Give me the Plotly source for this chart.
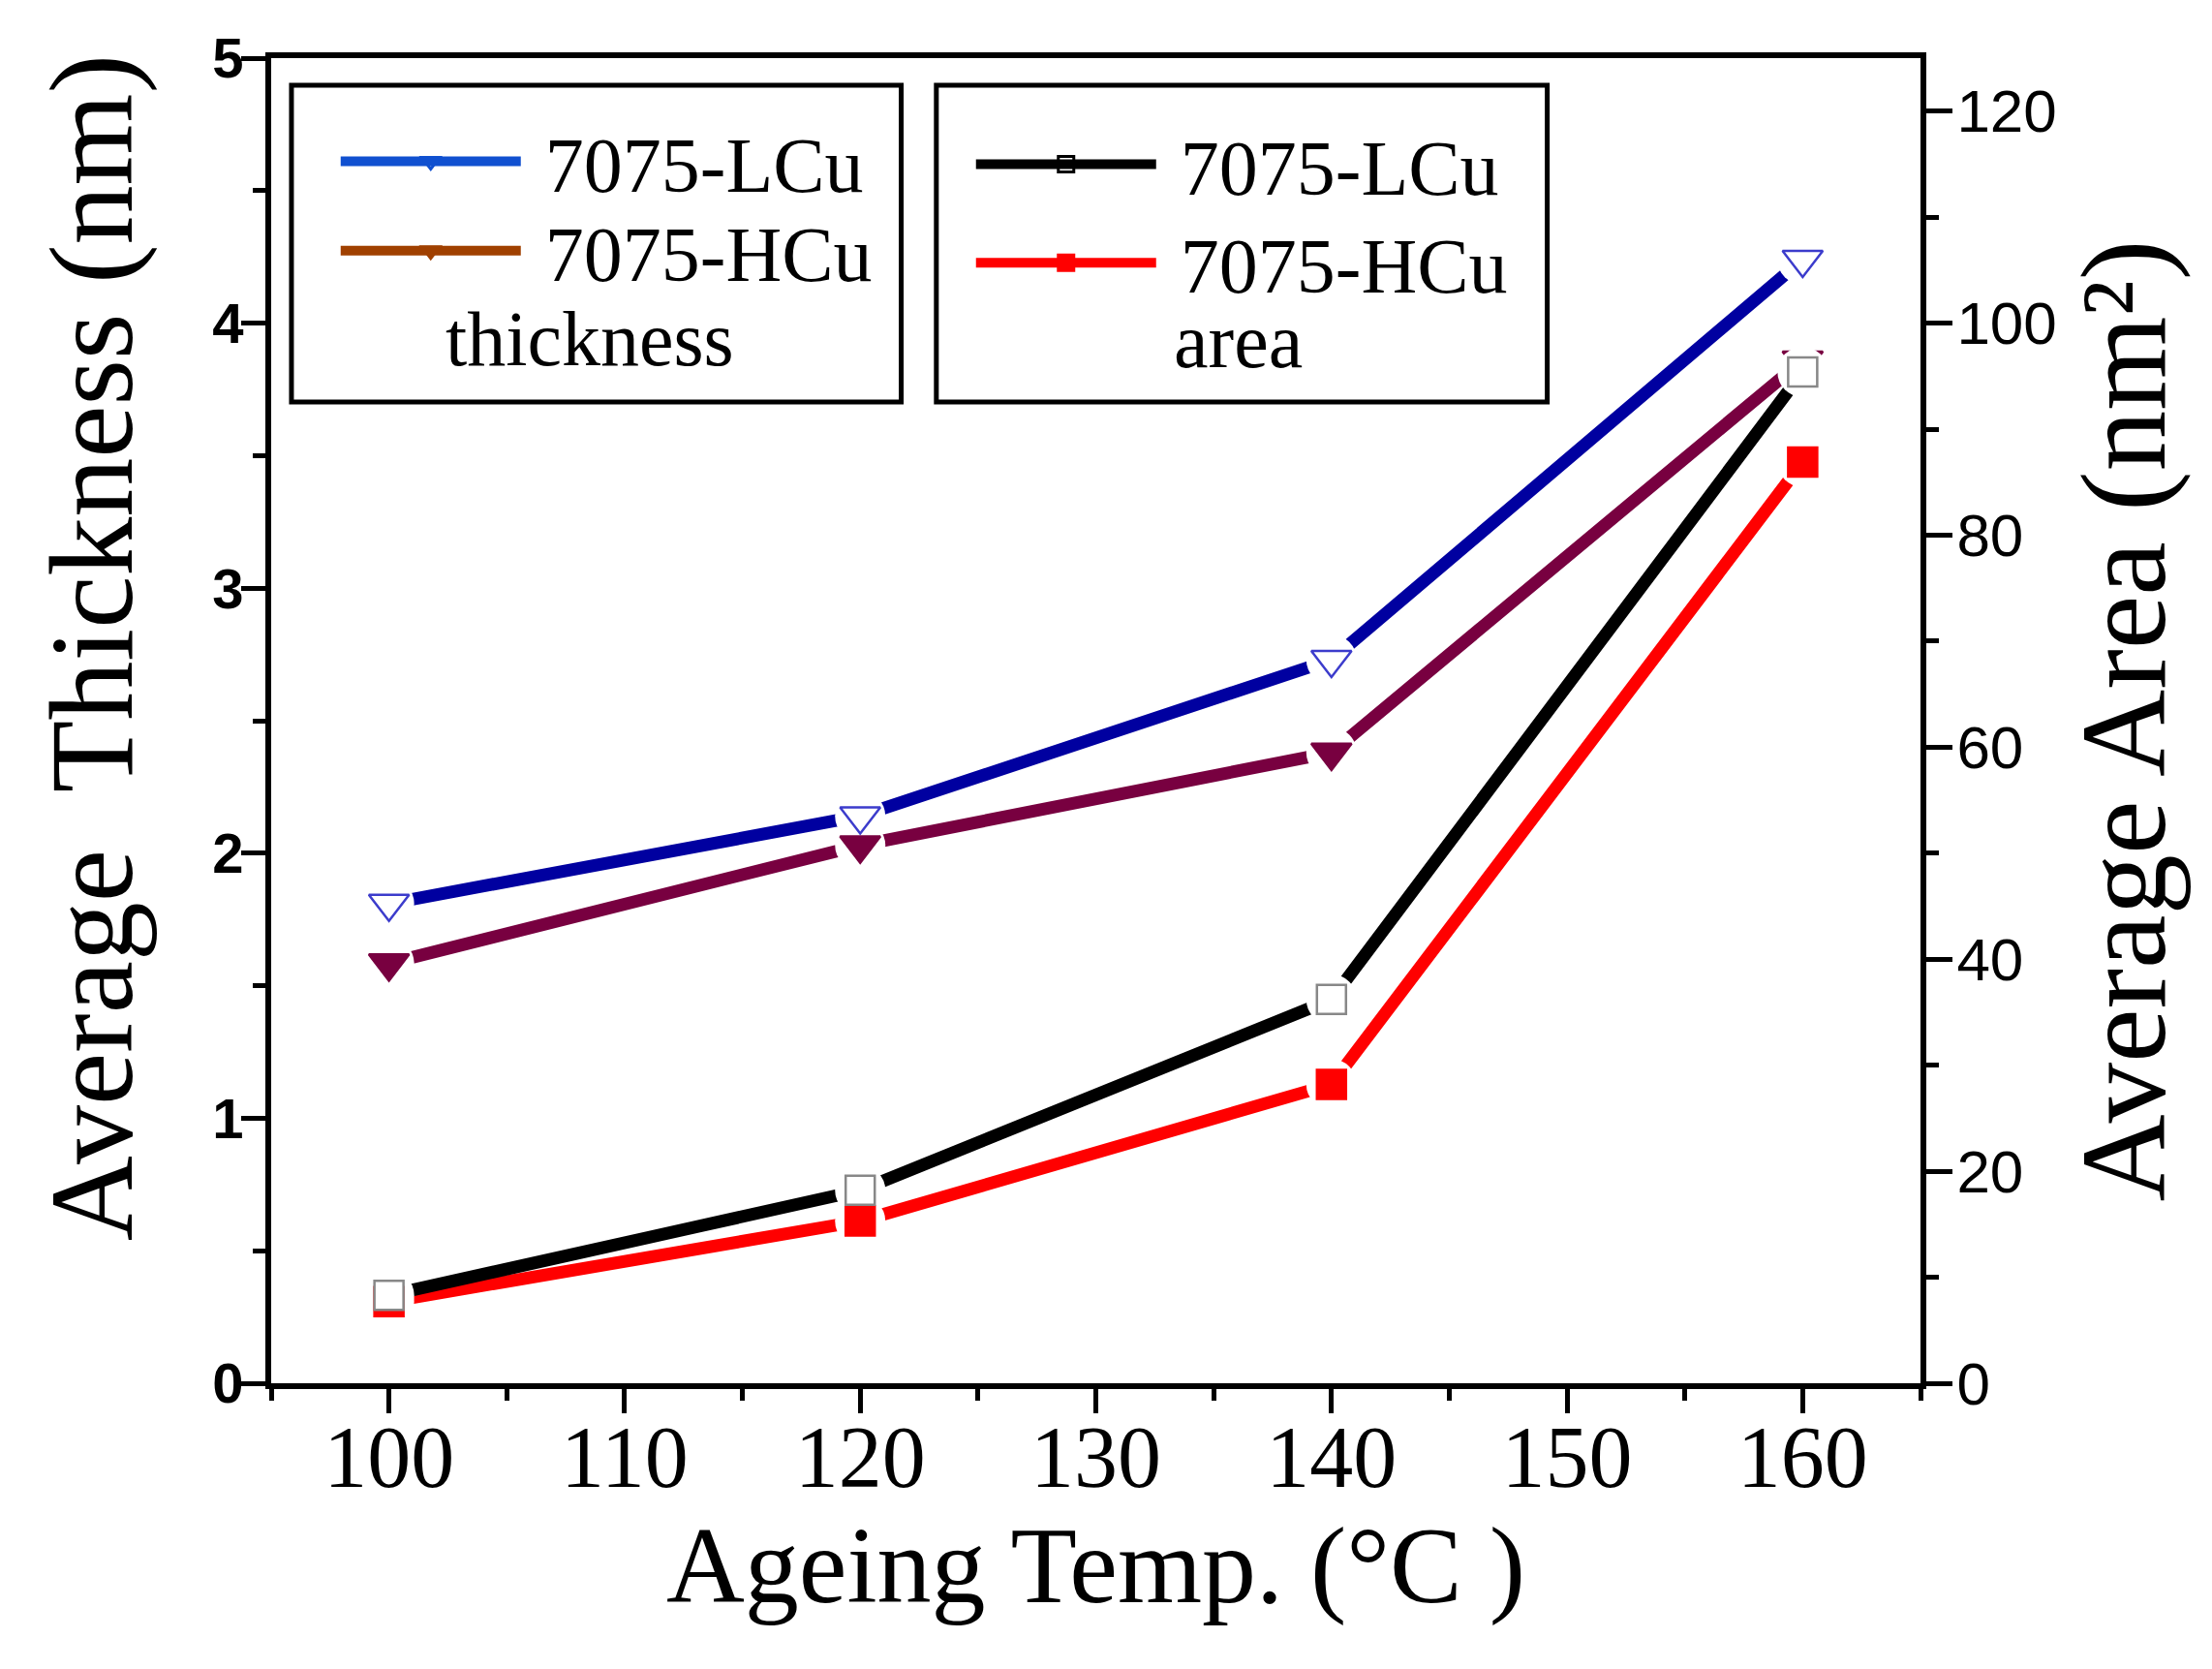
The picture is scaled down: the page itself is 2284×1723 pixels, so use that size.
import plotly.graph_objects as pgo

# ageing temperature (°C)
temps = [100, 120, 140, 160]

# average precipitate thickness (nm), left axis
thick_lcu = [1.81, 2.14, 2.73, 4.24]
thick_hcu = [1.585, 2.03, 2.38, 3.86]

# average precipitate area (nm^2), right axis
area_lcu = [8.3, 18.2, 36.2, 95.4]
area_hcu = [7.7, 15.3, 28.2, 86.9]

series_names = ['7075-LCu', '7075-HCu']

SERIF = 'Liberation Serif, Times New Roman, serif'
SANS = 'Liberation Sans, Arial, sans-serif'

# plot line / marker styles (left = thickness, right = area)
thick_lcu_style = dict(line='#0000a0', sym='triangle-down', fill='white', edge='#3c3ccc', size=36)
thick_hcu_style = dict(line='#780040', sym='triangle-down', fill='#780040', edge='#780040', size=36)
area_lcu_style = dict(line='black', sym='square', fill='white', edge='#888888', size=30)
area_hcu_style = dict(line='#ff0000', sym='square', fill='#ff0000', edge='#ff0000', size=30)

plot_series = [
    (thick_lcu, 'y', thick_lcu_style),
    (thick_hcu, 'y', thick_hcu_style),
    (area_hcu, 'y2', area_hcu_style),
    (area_lcu, 'y2', area_lcu_style),
]

fig = pgo.Figure()

# connecting lines
for vals, yax, st in plot_series:
    fig.add_trace(pgo.Scatter(
        x=temps, y=vals, yaxis=yax, mode='lines',
        line=dict(color=st['line'], width=13),
        showlegend=False, hoverinfo='skip'
    ))

# white halos so the lines stop short of the symbols (Origin-style gap)
for vals, yax, st in plot_series:
    fig.add_trace(pgo.Scatter(
        x=temps, y=vals, yaxis=yax, mode='markers',
        marker=dict(symbol='circle', size=52, color='white', line=dict(width=0)),
        showlegend=False, hoverinfo='skip'
    ))

# symbols
for vals, yax, st in plot_series:
    fig.add_trace(pgo.Scatter(
        x=temps, y=vals, yaxis=yax, mode='markers',
        marker=dict(symbol=st['sym'], size=st['size'], color=st['fill'],
                    line=dict(color=st['edge'], width=2.5)),
        showlegend=False
    ))

# legend entries, one small legend each so they can sit like the boxed keys of the original
legend_entries = [
    ('legend', series_names[0], '#1050d0', 'triangle-down-open', '#1050d0'),
    ('legend2', series_names[1], '#a04000', 'triangle-down', '#a04000'),
    ('legend3', series_names[0], 'black', 'square-open', 'black'),
    ('legend4', series_names[1], '#ff0000', 'square', '#ff0000'),
]
for leg, name, lc, sym, mc in legend_entries:
    fig.add_trace(pgo.Scatter(
        x=[None], y=[None], mode='lines+markers', name='\u00a0' + name, legend=leg,
        line=dict(color=lc, width=10),
        marker=dict(symbol=sym, size=16, color=mc, line=dict(color=mc, width=3)),
    ))


def key(x, y):
    return dict(
        x=x, y=y, xanchor='left', yanchor='middle',
        bgcolor='rgba(0,0,0,0)', borderwidth=0,
        font=dict(family=SERIF, size=80),
        itemwidth=186, itemsizing='trace',
    )


# the page body has an 8px margin, so the figure is 8px smaller than the window
fig.update_layout(
    width=2276,
    height=1715,
    paper_bgcolor='white',
    plot_bgcolor='white',
    margin=dict(l=272, r=301, t=52, b=295),
    font=dict(family=SERIF, color='black'),
    xaxis=dict(
        range=[95, 165],
        tickmode='linear', tick0=100, dtick=10,
        ticks='outside', ticklen=25, tickwidth=5, tickcolor='black',
        minor=dict(dtick=5, tick0=95, ticks='outside', ticklen=12, tickwidth=5, tickcolor='black'),
        tickfont=dict(family=SERIF, size=90),
        ticklabelstandoff=-32,
        showline=True, linecolor='black', linewidth=6, mirror=True,
        showgrid=False, zeroline=False,
        title=dict(text='Ageing Temp. (°C )', font=dict(family=SERIF, size=112), standoff=25),
    ),
    yaxis=dict(
        range=[0, 5],
        tickmode='linear', tick0=0, dtick=1,
        ticks='outside', ticklen=25, tickwidth=5, tickcolor='black',
        minor=dict(dtick=0.5, ticks='outside', ticklen=13, tickwidth=5, tickcolor='black'),
        tickfont=dict(family=SANS, size=58, weight='bold'),
        ticklabelstandoff=-14,
        showline=True, linecolor='black', linewidth=6,
        showgrid=False, zeroline=False,
    ),
    yaxis2=dict(
        range=[0, 125],
        overlaying='y', side='right', anchor='x',
        tickmode='linear', tick0=0, dtick=20,
        ticks='outside', ticklen=27, tickwidth=5, tickcolor='black',
        minor=dict(dtick=10, ticks='outside', ticklen=13, tickwidth=5, tickcolor='black'),
        tickfont=dict(family=SANS, size=62),
        ticklabelstandoff=-8,
        showline=True, linecolor='black', linewidth=6,
        showgrid=False, zeroline=False,
        title=dict(text='Average Area (nm²)', font=dict(family=SERIF, size=125), standoff=24),
    ),
    legend=key(0.0392, 0.9222),
    legend2=key(0.0392, 0.8547),
    legend3=key(0.4244, 0.920),
    legend4=key(0.4244, 0.8456),
    shapes=[
        dict(type='rect', xref='paper', yref='paper', x0=0.0123, x1=0.382, y0=0.7405, y1=0.9795,
             line=dict(color='black', width=5), fillcolor='rgba(0,0,0,0)', layer='above'),
        dict(type='rect', xref='paper', yref='paper', x0=0.4033, x1=0.7737, y0=0.7405, y1=0.9795,
             line=dict(color='black', width=5), fillcolor='rgba(0,0,0,0)', layer='above'),
    ],
    annotations=[
        dict(text='Average\u00a0 Thickness (nm)', xref='paper', yref='paper', x=-0.109, y=0.555,
             xanchor='center', yanchor='middle', textangle=-90, showarrow=False,
             font=dict(family=SERIF, size=122)),
        dict(text='thickness', xref='paper', yref='paper', x=0.193, y=0.7877,
             xanchor='center', yanchor='middle', showarrow=False,
             font=dict(family=SERIF, size=80)),
        dict(text='area', xref='paper', yref='paper', x=0.5866, y=0.7863,
             xanchor='center', yanchor='middle', showarrow=False,
             font=dict(family=SERIF, size=80)),
    ],
)

fig.write_html('out.html')
